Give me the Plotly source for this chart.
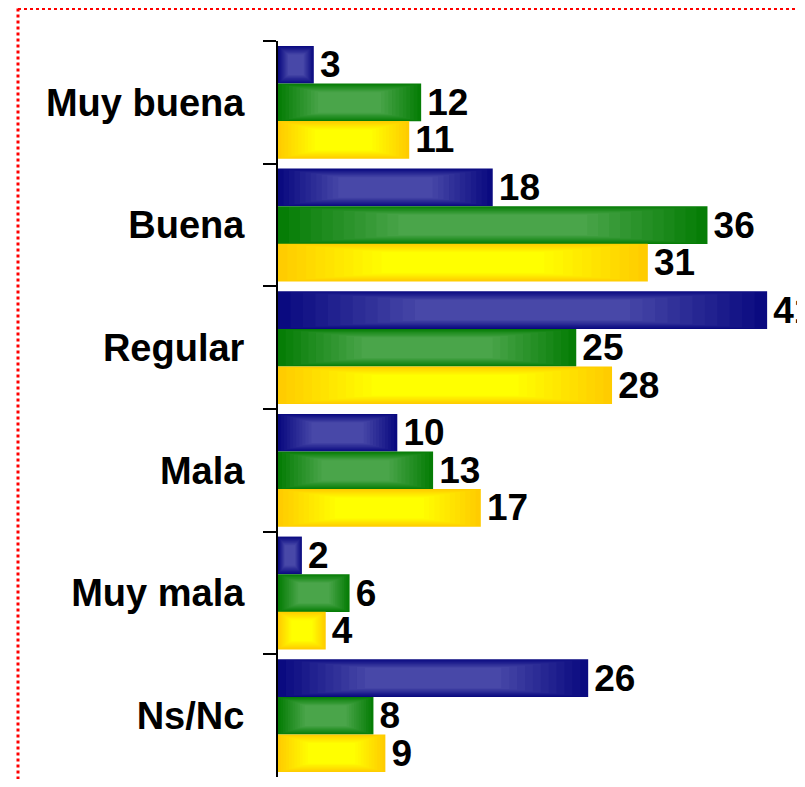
import plotly.graph_objects as go

categories = ["Muy buena", "Buena", "Regular", "Mala", "Muy mala", "Ns/Nc"]
serie_a = [3, 18, 41, 10, 2, 26]
serie_b = [12, 36, 25, 13, 6, 8]
serie_c = [11, 31, 28, 17, 4, 9]

series = [
    ("Serie 1", serie_a, (10, 10, 128), (72, 72, 168), -0.46),
    ("Serie 2", serie_b, (6, 125, 6), (74, 165, 74), -0.153),
    ("Serie 3", serie_c, (255, 204, 0), (255, 255, 0), 0.153),
]
bar_w = 0.307
n = 12
h_max, v_max = 0.28, 0.07

font_family = "Liberation Sans, Arial, sans-serif"

# page body has an 8px margin; place everything relative to that
L, T, R, B = 270, 33, 0, 2
W, H = 797, 771
PW, PH = W - L - R, H - T - B

fig = go.Figure()
for name, vals, edge, center, off in series:
    for i in range(n):
        t = i / (n - 1)
        col = "rgb(%d,%d,%d)" % tuple(round(e + (c - e) * t) for e, c in zip(edge, center))
        hx = h_max * t
        vy = v_max * t
        if i == 0:
            kw = dict(text=["\u200a" + str(v) for v in vals], textposition="outside",
                      textfont=dict(size=37, color="black", family=font_family, weight="bold"),
                      constraintext="none", cliponaxis=False)
        else:
            kw = dict(textposition="none")
        fig.add_trace(go.Bar(
            y=categories,
            x=[v * (1 - 2 * hx) for v in vals],
            base=[v * hx for v in vals],
            orientation="h",
            width=bar_w - 2 * vy,
            offset=off + vy,
            marker=dict(color=col, line=dict(width=0)),
            hoverinfo="skip",
            showlegend=False,
            name=name,
            **kw,
        ))

border_x = (10 - L) / PW
border_y = 1 + (T - 0.5) / PH

fig.update_layout(
    width=W, height=H,
    margin=dict(l=L, r=R, t=T, b=B, autoexpand=False),
    paper_bgcolor="white", plot_bgcolor="white",
    barmode="overlay",
    showlegend=False,
    xaxis=dict(range=[0, PW / 11.93], visible=False, showgrid=False, zeroline=False,
               automargin=False),
    yaxis=dict(
        type="category", categoryorder="array", categoryarray=categories,
        range=[5.5, -0.5], automargin=False,
        showline=True, linecolor="black", linewidth=2,
        ticks="outside", tickson="boundaries", ticklen=13, tickwidth=2, tickcolor="black",
        tickfont=dict(size=38, color="black", family=font_family, weight="bold"),
        ticklabelstandoff=24,
        showgrid=False, zeroline=False,
    ),
    shapes=[
        dict(type="line", xref="paper", yref="paper",
             x0=border_x, x1=1.1, y0=border_y, y1=border_y,
             line=dict(color="red", width=3, dash="3px,3px")),
        dict(type="line", xref="paper", yref="paper",
             x0=border_x, x1=border_x, y0=border_y, y1=-0.05,
             line=dict(color="red", width=3, dash="3px,3px")),
    ],
)

fig.write_html("out.html")
